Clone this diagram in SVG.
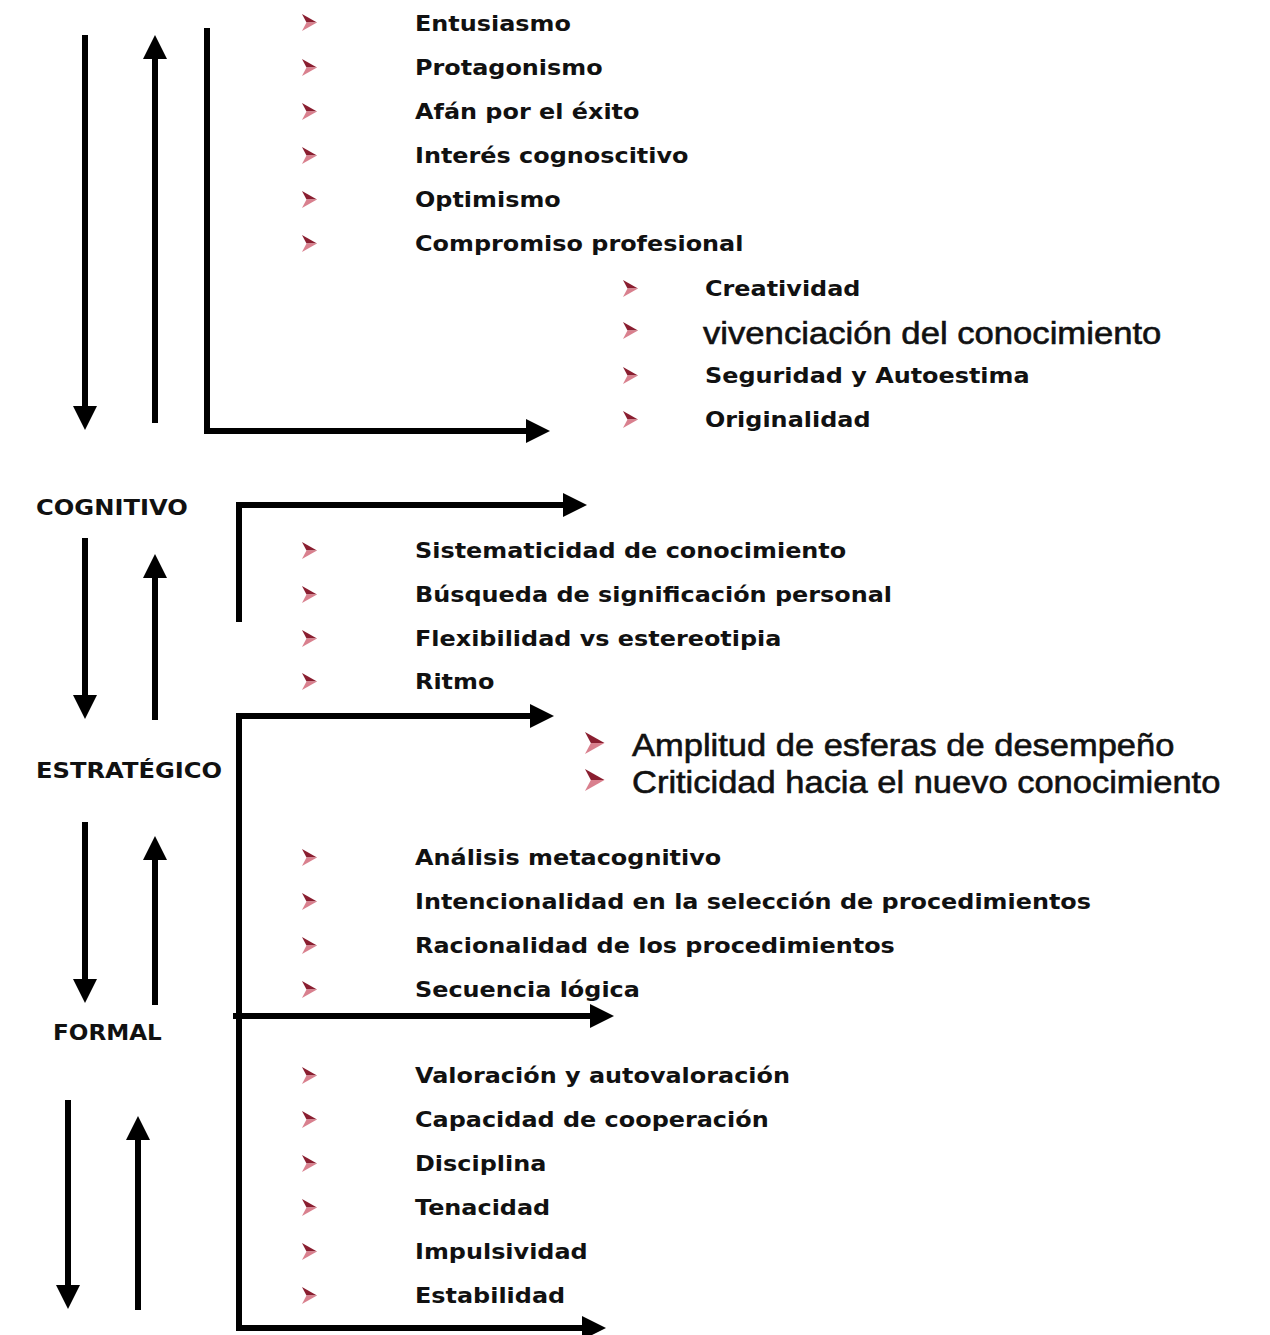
<svg xmlns="http://www.w3.org/2000/svg" xmlns:xlink="http://www.w3.org/1999/xlink" width="1270" height="1335" viewBox="0 0 1270 1335">
<style>
.b{font-family:"DejaVu Sans",Verdana,sans-serif;font-weight:bold;font-size:22px;fill:#111}
.r{font-family:"Liberation Sans",Arial,sans-serif;font-size:31.5px;fill:#111;stroke:#111;stroke-width:0.6}
.ln{fill:none;stroke:#000;stroke-width:6;stroke-linejoin:miter}
.ar{marker-end:url(#ah)}
</style>
<defs>
<marker id="ah" viewBox="0 -12 24 24" refX="1" refY="0" markerWidth="24" markerHeight="24" markerUnits="userSpaceOnUse" orient="auto-start-reverse">
<path d="M0,-12 L24,0 L0,12 Z" fill="#000"/>
</marker>
<symbol id="bul" viewBox="0 -8.5 15 17" width="15" height="17" overflow="visible">
<path d="M0,-8.5 L15,0 L4.5,0 Z" fill="#8a1e30"/>
<path d="M4.5,0 L15,0 L0,8.5 Z" fill="#d9808e"/>
</symbol>
</defs>
<rect width="1270" height="1335" fill="#fff"/>

<g id="connectors">
<line class="ln ar" x1="85" y1="35" x2="85" y2="407"/>
<line class="ln ar" x1="155" y1="423" x2="155" y2="58"/>
<path class="ln ar" d="M207,28 V431 H527"/>
<line class="ln ar" x1="85" y1="538" x2="85" y2="696"/>
<line class="ln ar" x1="155" y1="720" x2="155" y2="577"/>
<path class="ln ar" d="M239,622 V505 H564"/>
<line class="ln ar" x1="85" y1="822" x2="85" y2="980"/>
<line class="ln ar" x1="155" y1="1005" x2="155" y2="859"/>
<line class="ln ar" x1="68" y1="1100" x2="68" y2="1286"/>
<line class="ln ar" x1="138" y1="1310" x2="138" y2="1139"/>
<path class="ln ar" style="marker-start:url(#ah)" d="M531,716 H239 V1328 H583"/>
<line class="ln ar" x1="233" y1="1016" x2="591" y2="1016"/>
</g>

<g id="label-cognitivo"><text class="b" transform="translate(36,515) scale(1.1,1)">COGNITIVO</text></g>
<g id="label-estrategico"><text class="b" transform="translate(36,778) scale(1.1,1)">ESTRATÉGICO</text></g>
<g id="label-formal"><text class="b" style="font-size:21px" transform="translate(53,1040) scale(1.1,1)">FORMAL</text></g>

<g id="list-afectivo">
<use href="#bul" x="302" y="14"/><text class="b" transform="translate(415,31) scale(1.087,1)">Entusiasmo</text>
<use href="#bul" x="302" y="59"/><text class="b" transform="translate(415,75) scale(1.087,1)">Protagonismo</text>
<use href="#bul" x="302" y="103"/><text class="b" transform="translate(415,119) scale(1.087,1)">Afán por el éxito</text>
<use href="#bul" x="302" y="147"/><text class="b" transform="translate(415,163) scale(1.087,1)">Interés cognoscitivo</text>
<use href="#bul" x="302" y="191"/><text class="b" transform="translate(415,207) scale(1.087,1)">Optimismo</text>
<use href="#bul" x="302" y="235"/><text class="b" transform="translate(415,251) scale(1.087,1)">Compromiso profesional</text>
</g>

<g id="list-creativo">
<use href="#bul" x="623" y="280"/><text class="b" transform="translate(705,296) scale(1.087,1)">Creatividad</text>
<use href="#bul" x="623" y="322"/><text class="r" transform="translate(703,344) scale(1.1,1)">vivenciación del conocimiento</text>
<use href="#bul" x="623" y="367"/><text class="b" transform="translate(705,383) scale(1.087,1)">Seguridad y Autoestima</text>
<use href="#bul" x="623" y="411"/><text class="b" transform="translate(705,427) scale(1.087,1)">Originalidad</text>
</g>

<g id="list-cognitivo">
<use href="#bul" x="302" y="542"/><text class="b" transform="translate(415,558) scale(1.087,1)">Sistematicidad de conocimiento</text>
<use href="#bul" x="302" y="586"/><text class="b" transform="translate(415,602) scale(1.087,1)">Búsqueda de significación personal</text>
<use href="#bul" x="302" y="630"/><text class="b" transform="translate(415,646) scale(1.087,1)">Flexibilidad vs estereotipia</text>
<use href="#bul" x="302" y="673"/><text class="b" transform="translate(415,689) scale(1.087,1)">Ritmo</text>
</g>

<g id="list-amplitud">
<use href="#bul" transform="translate(585,732) scale(1.3)"/><text class="r" transform="translate(632,756) scale(1.095,1)">Amplitud de esferas de desempeño</text>
<use href="#bul" transform="translate(585,769) scale(1.3)"/><text class="r" transform="translate(632,793) scale(1.095,1)">Criticidad hacia el nuevo conocimiento</text>
</g>

<g id="list-estrategico">
<use href="#bul" x="302" y="849"/><text class="b" transform="translate(415,865) scale(1.087,1)">Análisis metacognitivo</text>
<use href="#bul" x="302" y="893"/><text class="b" transform="translate(415,909) scale(1.087,1)">Intencionalidad en la selección de procedimientos</text>
<use href="#bul" x="302" y="937"/><text class="b" transform="translate(415,953) scale(1.087,1)">Racionalidad de los procedimientos</text>
<use href="#bul" x="302" y="981"/><text class="b" transform="translate(415,997) scale(1.087,1)">Secuencia lógica</text>
</g>

<g id="list-formal">
<use href="#bul" x="302" y="1067"/><text class="b" transform="translate(415,1083) scale(1.087,1)">Valoración y autovaloración</text>
<use href="#bul" x="302" y="1111"/><text class="b" transform="translate(415,1127) scale(1.087,1)">Capacidad de cooperación</text>
<use href="#bul" x="302" y="1155"/><text class="b" transform="translate(415,1171) scale(1.087,1)">Disciplina</text>
<use href="#bul" x="302" y="1199"/><text class="b" transform="translate(415,1215) scale(1.087,1)">Tenacidad</text>
<use href="#bul" x="302" y="1243"/><text class="b" transform="translate(415,1259) scale(1.087,1)">Impulsividad</text>
<use href="#bul" x="302" y="1287"/><text class="b" transform="translate(415,1303) scale(1.087,1)">Estabilidad</text>
</g>
</svg>
